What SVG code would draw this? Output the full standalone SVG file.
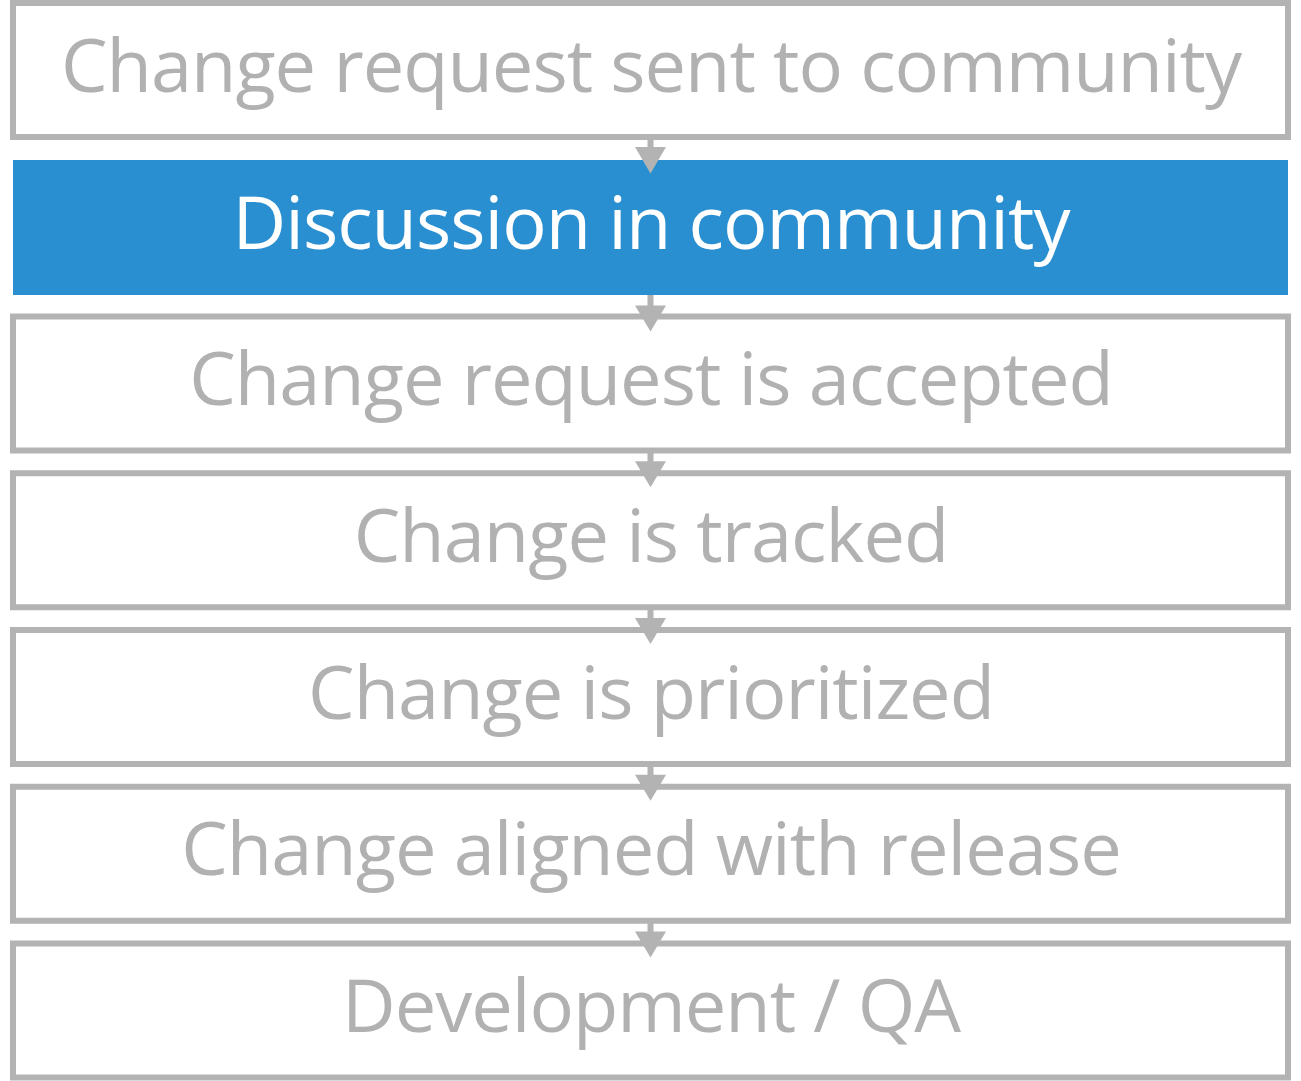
<svg xmlns="http://www.w3.org/2000/svg" width="1301" height="1081" viewBox="0 0 1301 1081">
<style>
.box{fill:#ffffff;stroke:#b3b3b3;stroke-width:6}
.hl{fill:#2a8fd0}
.t{font-family:"Open Sans","Noto Sans","DejaVu Sans",sans-serif;font-size:74px;letter-spacing:-1px;fill:#b1b1b1;text-anchor:middle}
.tw{fill:#ffffff}
.stem{stroke:#b3b3b3;stroke-width:6}
.head{fill:#b3b3b3}
</style>
<rect width="1301" height="1081" fill="#ffffff"/>
<g id="node1"><rect class="box" x="13" y="3" width="1275" height="134"/><text class="t" x="651" y="91.5">Change request sent to community</text></g>
<g id="node2"><rect class="hl" x="13" y="160" width="1275" height="135"/><text class="t tw" x="651" y="249">Discussion in community</text></g>
<g id="node3"><rect class="box" x="13" y="316.5" width="1275" height="134"/><text class="t" x="651" y="405">Change request is accepted</text></g>
<g id="node4"><rect class="box" x="13" y="473.25" width="1275" height="134"/><text class="t" x="651" y="561.75">Change is tracked</text></g>
<g id="node5"><rect class="box" x="13" y="630" width="1275" height="134"/><text class="t" x="651" y="718.5">Change is prioritized</text></g>
<g id="node6"><rect class="box" x="13" y="786.75" width="1275" height="134"/><text class="t" x="651" y="875.25">Change aligned with release</text></g>
<g id="node7"><rect class="box" x="13" y="943.5" width="1275" height="134"/><text class="t" x="651" y="1032">Development / QA</text></g>
<g id="connectors">
<line class="stem" x1="650.5" y1="139" x2="650.5" y2="149"/><polygon class="head" points="635,147 666,147 650.5,173.5"/>
<line class="stem" x1="650.5" y1="295" x2="650.5" y2="308"/><polygon class="head" points="635,305.5 666,305.5 650.5,331.5"/>
<line class="stem" x1="650.5" y1="452" x2="650.5" y2="463"/><polygon class="head" points="635,461.25 666,461.25 650.5,487.25"/>
<line class="stem" x1="650.5" y1="609" x2="650.5" y2="620"/><polygon class="head" points="635,618 666,618 650.5,644"/>
<line class="stem" x1="650.5" y1="766" x2="650.5" y2="777"/><polygon class="head" points="635,774.75 666,774.75 650.5,800.75"/>
<line class="stem" x1="650.5" y1="922" x2="650.5" y2="934"/><polygon class="head" points="635,931.5 666,931.5 650.5,957.5"/>
</g>
</svg>
